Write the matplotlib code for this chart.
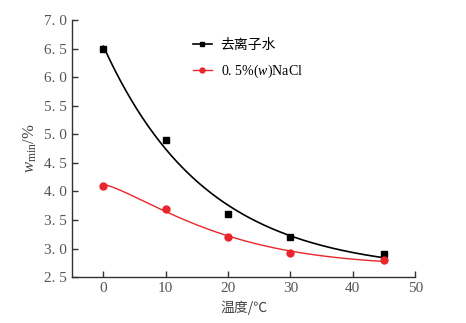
import numpy as np
import matplotlib
matplotlib.use("Agg")
import matplotlib.pyplot as plt
from matplotlib import font_manager as fm


def pick(names):
    for n in names:
        try:
            fm.findfont(fm.FontProperties(family=n), fallback_to_default=False)
            return n
        except Exception:
            pass
    return 'DejaVu Serif'


SERIF = pick(['Liberation Serif', 'DejaVu Serif'])
CJK = 'Noto Sans CJK SC'
plt.rcParams['font.family'] = [SERIF, CJK, 'DejaVu Sans']
plt.rcParams['mathtext.fontset'] = 'custom'
plt.rcParams['mathtext.rm'] = SERIF
plt.rcParams['mathtext.it'] = SERIF + ':italic'

temps = [0, 10, 20, 30, 45]
water = [6.5, 4.9, 3.6, 3.2, 2.9]
nacl = [4.1, 3.7, 3.2, 2.92, 2.8]
labels = ['去离子水', '0. 5%($w$)NaCl']
xticks = [0, 10, 20, 30, 40, 50]
yticks = [2.5, 3.0, 3.5, 4.0, 4.5, 5.0, 5.5, 6.0, 6.5, 7.0]


def stretched_fit(x, y, p):
    x = np.asarray(x, float); y = np.asarray(y, float)
    best = None
    for t in np.linspace(3, 80, 600):
        A = np.vstack([np.ones_like(x), np.exp(-(x / t) ** p)]).T
        coef, *_ = np.linalg.lstsq(A, y, rcond=None)
        err = np.sum((A @ coef - y) ** 2)
        if best is None or err < best[0]:
            best = (err, coef, t)
    _, (a, b), t = best
    return lambda xx: a + b * np.exp(-(xx / t) ** p)


fig = plt.figure(figsize=(4.66, 3.23), dpi=100)
ax = fig.add_axes([0.155, 0.142, 0.736, 0.796])

xs = np.linspace(0, 45, 200)
fw = stretched_fit(temps, water, 1.0)
fn = stretched_fit(temps, nacl, 1.3)
red = '#e8262b'
ax.plot(xs, fw(xs), color='black', lw=1.2)
ax.plot(xs, fn(xs), color=red, lw=1.0)
ax.plot(temps, water, 's', color='black', ms=4.5)
ax.plot(temps, nacl, 'o', color=red, ms=5)

h1, = ax.plot([], [], '-s', color='black', ms=3.5, lw=1.2)
h2, = ax.plot([], [], '-o', color=red, ms=3.5, lw=1.0)
ax.legend([h1, h2], labels, loc='upper left', bbox_to_anchor=(0.315, 0.975),
          frameon=False, handlelength=1.4, handletextpad=0.6, labelspacing=0.75,
          prop={'family': [SERIF, CJK, 'DejaVu Sans'], 'size': 10})

ax.set_xlim(-5, 50)
ax.set_ylim(2.5, 7.0)
ax.set_xticks(xticks)
ax.set_xticklabels([str(v) for v in xticks])
ax.set_yticks(yticks)
ax.set_yticklabels([f"{v:.1f}".replace('.', '. ') for v in yticks])
ax.tick_params(direction='in', length=4, width=1, labelsize=11, colors='#333333', labelcolor='#555555')
for s in ['top', 'right']:
    ax.spines[s].set_visible(False)
for s in ['left', 'bottom']:
    ax.spines[s].set_linewidth(1.0)
    ax.spines[s].set_color('#333333')

ax.set_xlabel('温度/℃', family=[CJK, 'DejaVu Sans'], fontsize=10, color='#444444')
ax.set_ylabel(r'$w_{\rm min}$/%', fontsize=12, color='#444444')

fig.savefig('out.png', dpi=100)
